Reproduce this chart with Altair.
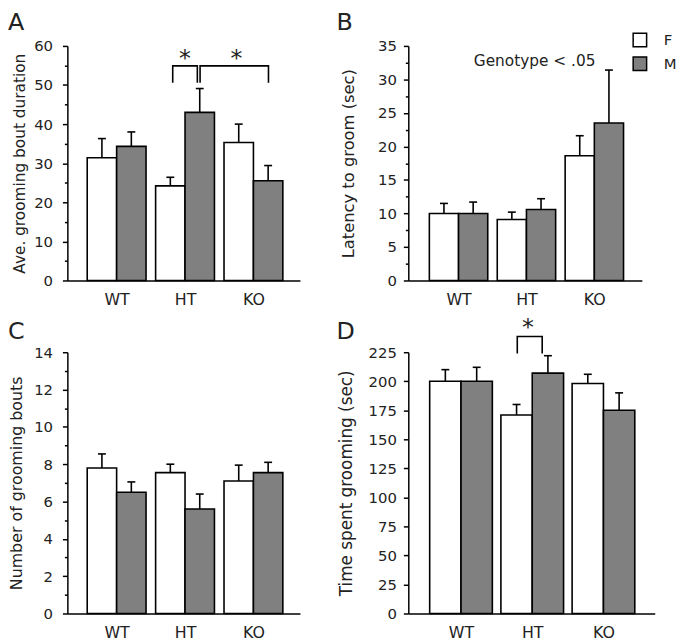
import altair as alt
import pandas as pd

FONT = "DejaVu Sans"
genotypes = ["WT", "HT", "KO"]
sexes = ["F", "M"]
fill_colors = ["white", "#808080"]

# Panel A: Ave. grooming bout duration
a_f_mean = [31.4, 24.2, 35.3]
a_f_sem = [4.9, 2.2, 4.7]
a_m_mean = [34.3, 43.0, 25.5]
a_m_sem = [3.7, 6.1, 3.9]
a_major = [0, 10, 20, 30, 40, 50, 60]
a_minor = [5, 15, 25, 35, 45, 55]

# Panel B: Latency to groom (sec)
b_f_mean = [10.0, 9.1, 18.6]
b_f_sem = [1.5, 1.1, 3.0]
b_m_mean = [10.0, 10.6, 23.5]
b_m_sem = [1.7, 1.6, 7.9]
b_major = [0, 5, 10, 15, 20, 25, 30, 35]
b_minor = [2.5, 7.5, 12.5, 17.5, 22.5, 27.5, 32.5]

# Panel C: Number of grooming bouts
c_f_mean = [7.8, 7.55, 7.1]
c_f_sem = [0.75, 0.45, 0.85]
c_m_mean = [6.5, 5.6, 7.55]
c_m_sem = [0.55, 0.8, 0.55]
c_major = [0, 2, 4, 6, 8, 10, 12, 14]
c_minor = [1, 3, 5, 7, 9, 11, 13]

# Panel D: Time spent grooming (sec)
d_f_mean = [200, 171, 198]
d_f_sem = [10, 9, 8]
d_m_mean = [200, 207, 175]
d_m_sem = [12, 15, 15]
d_major = [0, 25, 50, 75, 100, 125, 150, 175, 200, 225]
d_minor = []

# significance brackets: (x start, x end, top, leg bottom) in data units
a_brackets = [(0.82, 1.18, 54.9, 50.6), (1.22, 2.22, 54.9, 50.6)]
a_stars = [(1.0, 58.3), (1.75, 58.3)]
d_brackets = [(0.79, 1.14, 238.5, 224.0)]
d_stars = [(0.94, 252.0)]


def panel(f_mean, f_sem, m_mean, m_sem, major, minor, width, height, xdom,
          barw, ytitle, tsize, extent, tpad, lpad, letter, ldx, ldy,
          brackets=(), stars=(), legend=False, note=None):
    rows = []
    for gi, g in enumerate(genotypes):
        for s, means, sems in (("F", f_mean, f_sem), ("M", m_mean, m_sem)):
            x0 = gi - barw if s == "F" else gi
            x1 = gi if s == "F" else gi + barw
            rows.append({"geno": g, "sex": s, "mean": means[gi],
                         "top": means[gi] + sems[gi],
                         "x0": x0, "x1": x1, "xc": (x0 + x1) / 2})
    df = pd.DataFrame(rows)
    ymax = major[-1]
    xscale = alt.Scale(domain=xdom, nice=False, zero=False)
    yscale = alt.Scale(domain=[0, ymax], nice=False)
    xaxis = alt.Axis(values=[0, 1, 2], labelExpr=f"{genotypes}[datum.value]",
                     ticks=False, tickSize=0, labelPadding=11, grid=False,
                     labelFontSize=16, labelFont=FONT, labelColor="#222",
                     domainColor="black", domainWidth=1.5, title=None,
                     labelFlush=False, labelOverlap=False)
    yaxis = alt.Axis(values=major, tickSize=5, orient="left",
                     tickWidth=1.5, tickColor="black", domainColor="black",
                     domainWidth=1.5, labelPadding=lpad, labelFontSize=15,
                     labelFont=FONT, labelColor="#222", grid=False,
                     labelOverlap=False, labelFlush=False,
                     title=ytitle, titleFont=FONT, titleFontSize=tsize,
                     titleFontWeight="normal", titleColor="#222",
                     titlePadding=tpad, minExtent=extent, maxExtent=extent)
    if legend:
        leg = alt.Legend(orient="none", legendX=226, legendY=-14, title=None,
                         symbolType="square", symbolSize=185,
                         symbolStrokeColor="black", symbolStrokeWidth=1.5,
                         labelFont=FONT, labelFontSize=15, labelColor="#222",
                         labelOffset=16, rowPadding=4, padding=0)
    else:
        leg = None
    base = alt.Chart(df)
    bars = base.mark_rect(stroke="black", strokeWidth=1.6).encode(
        x=alt.X("x0:Q", scale=xscale, axis=xaxis),
        x2="x1:Q",
        y=alt.Y("mean:Q", scale=yscale, axis=yaxis),
        y2=alt.datum(0),
        color=alt.Color("sex:N", scale=alt.Scale(domain=sexes, range=fill_colors),
                        legend=leg),
    )
    if minor:
        minor_axis = alt.Axis(values=minor, orient="left", labels=False, domain=False,
                              tickSize=3, tickWidth=1.5, tickColor="black",
                              grid=False, title=None, minExtent=0, maxExtent=0)
    else:
        minor_axis = None
    err = base.mark_rule(color="black", strokeWidth=1.6).encode(
        x=alt.X("xc:Q", axis=None), y=alt.Y("mean:Q", axis=minor_axis), y2="top:Q")
    caps = base.mark_tick(color="black", orient="horizontal", size=8,
                          thickness=1.6, opacity=1).encode(
        x=alt.X("xc:Q", axis=None), y=alt.Y("top:Q", axis=None))
    layers = [bars, err, caps]
    if brackets:
        pts = []
        for bi, (bx0, bx1, btop, bbot) in enumerate(brackets):
            for k, (px, py) in enumerate([(bx0, bbot), (bx0, btop), (bx1, btop), (bx1, bbot)]):
                pts.append({"b": bi, "k": k, "x": px, "y": py})
        layers.append(alt.Chart(pd.DataFrame(pts)).mark_line(
            color="black", strokeWidth=1.6).encode(
            x=alt.X("x:Q", axis=None), y=alt.Y("y:Q", axis=None),
            detail="b:N", order="k:Q"))
    if stars:
        sdf = pd.DataFrame({"x": [s[0] for s in stars], "y": [s[1] for s in stars],
                            "t": ["*"] * len(stars)})
        layers.append(alt.Chart(sdf).mark_text(font=FONT, fontSize=24, baseline="middle",
                                               dy=7, color="#222").encode(
            x=alt.X("x:Q", axis=None), y=alt.Y("y:Q", axis=None), text="t:N"))
    if note:
        ndf = pd.DataFrame({"x": [note[0]], "y": [note[1]], "t": [note[2]]})
        layers.append(alt.Chart(ndf).mark_text(font=FONT, fontSize=15.5,
                                               baseline="middle", color="#222").encode(
            x=alt.X("x:Q", axis=None), y=alt.Y("y:Q", axis=None), text="t:N"))
    ldf = pd.DataFrame({"t": [letter]})
    layers.append(alt.Chart(ldf).mark_text(font=FONT, fontSize=24, align="left",
                                           baseline="top", color="#222").encode(
        text="t:N", x=alt.value(ldx), y=alt.value(ldy)))
    return alt.layer(*layers).resolve_axis(x="independent", y="independent").properties(
        width=width, height=height)


A = panel(a_f_mean, a_f_sem, a_m_mean, a_m_sem, a_major, a_minor, 235, 237,
          [-0.72, 2.68], 0.43, "Ave. grooming bout duration", 15.5, 35, 5, 10,
          "A", -60, -35, brackets=a_brackets, stars=a_stars)
B = panel(b_f_mean, b_f_sem, b_m_mean, b_m_sem, b_major, b_minor, 236, 237,
          [-0.74, 2.70], 0.43, "Latency to groom (sec)", 16.5, 33, 19, 7,
          "B", -72.5, -35, legend=True, note=(1.12, 32.8, "Genotype < .05"))
C = panel(c_f_mean, c_f_sem, c_m_mean, c_m_sem, c_major, c_minor, 235, 264,
          [-0.72, 2.68], 0.43, "Number of grooming bouts", 16, 35, 8, 10,
          "C", -60, -32)
D = panel(d_f_mean, d_f_sem, d_m_mean, d_m_sem, d_major, d_minor, 249, 264,
          [-0.74, 2.72], 0.44, "Time spent grooming (sec)", 17, 40, 13, 7,
          "D", -72.5, -32, brackets=d_brackets, stars=d_stars)

chart = alt.concat(A, B, C, D, columns=2, spacing={"row": 72.5, "column": 109.5},
                   bounds="flush", align="each").resolve_scale(
    color="independent").properties(padding=0).configure_view(stroke=None)

chart.save("out.html", embed_options={"renderer": "svg", "actions": False})
